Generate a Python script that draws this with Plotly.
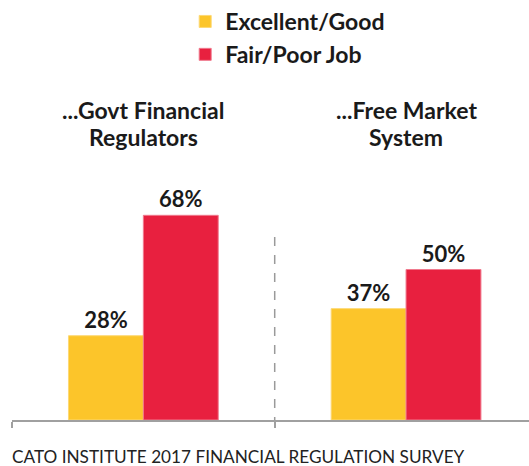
import plotly.graph_objects as go

group_keys = ["govt", "market"]
group_line1 = ["...Govt Financial", "...Free Market"]
group_line2 = ["Regulators", "System"]
series_names = ["Excellent/Good", "Fair/Poor Job"]
excellent_good = [28, 37]
fair_poor = [68, 50]
colors = ["#FCC52A", "#E8203F"]
line_colors = ["#FDD874", "#F07A8E"]
footer = "CATO INSTITUTE 2017 FINANCIAL REGULATION SURVEY"

FONT = "Lato, 'Open Sans', sans-serif"
PX = 3.01  # pixels per percentage point

fig = go.Figure()
for i, (name, vals) in enumerate(zip(series_names, [excellent_good, fair_poor])):
    fig.add_trace(go.Bar(
        x=group_keys, y=vals, name=name,
        marker=dict(color=colors[i], line=dict(color=line_colors[i], width=1)),
        text=[f"{v}%" for v in vals], textposition="outside",
        textfont=dict(family=FONT, size=22, color="#1a1a1a", weight="bold"),
        cliponaxis=False, legendgroup=name, hoverinfo="skip",
    ))

# group headings (two lines each)
for key, l1, l2 in zip(group_keys, group_line1, group_line2):
    for txt, ypx in ((l1, 110), (l2, 137)):
        fig.add_annotation(x=key, y=(420 - ypx) / PX, xref="x", yref="y", text=txt,
                           showarrow=False, yanchor="middle",
                           font=dict(family=FONT, size=23, color="#1a1a1a", weight="bold"))

# dashed divider
fig.add_shape(type="line", xref="x", yref="y", x0=0.5, x1=0.5, y0=-2, y1=63,
              line=dict(color="#9a9a9a", width=1.5, dash="dash"))

fig.add_annotation(x=0, y=-36.5 / 420, xref="paper", yref="paper", text=footer,
                   showarrow=False, xanchor="left", yanchor="middle", xshift=-2,
                   font=dict(family=FONT, size=17.2, color="#222222"))

fig.update_layout(
    width=529, height=466,
    margin=dict(l=12, r=0, t=0, b=46),
    paper_bgcolor="white", plot_bgcolor="white",
    barmode="group", bargap=0.43, bargroupgap=0,
    showlegend=True,
    legend=dict(x=0.335, y=1.0, xanchor="left", yanchor="top",
                traceorder="grouped", tracegroupgap=0,
                font=dict(family=FONT, size=23, color="#1a1a1a", weight="bold"),
                bgcolor="rgba(0,0,0,0)"),
    xaxis=dict(range=[-0.5, 1.468], showgrid=False, zeroline=False,
               showline=True, linecolor="#a0a0a0", linewidth=1.5,
               ticks="outside", tickson="boundaries", ticklen=6,
               tickcolor="#a0a0a0", tickwidth=1.5, showticklabels=False),
    yaxis=dict(range=[0, 420 / PX], visible=False),
)

fig.write_html("out.html", config={"displayModeBar": False},
               post_script="document.body.style.margin='0';document.body.style.overflow='hidden';")
